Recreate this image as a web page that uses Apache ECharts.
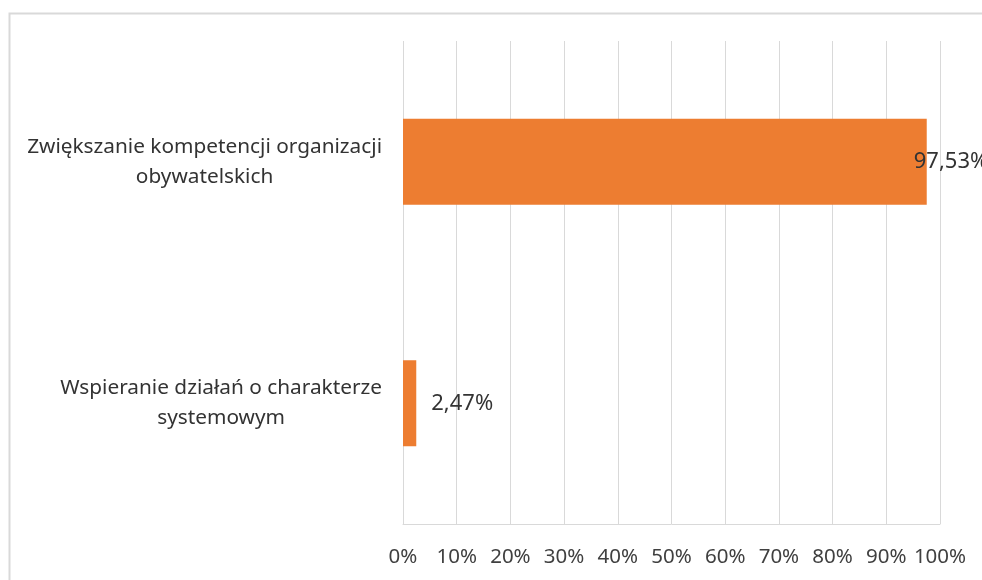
<!DOCTYPE html>
<html>
<head>
    <meta charset="utf-8">
    <title>Wykres</title>
    <script src="https://cdn.jsdelivr.net/npm/echarts@6/dist/echarts.min.js"></script>
    <style>
        html, body { margin: 0; padding: 0; background: #ffffff; }
        #chart { width: 982px; height: 580px; }
    </style>
</head>
<body>
<div id="chart"></div>
<script>
    // dane wykresu
    var categories = [
        'Zwiększanie kompetencji organizacji\nobywatelskich',
        'Wspieranie działań o charakterze\nsystemowym'
    ];
    var values = [97.53, 2.47];
    var labelDistance = [-13, 15];

    var font = 'Noto Sans';
    var chart = echarts.init(document.getElementById('chart'));

    var seriesData = values.map(function (v, i) {
        return {
            value: v,
            label: { distance: labelDistance[i] }
        };
    });

    var option = {
        animation: false,
        textStyle: { fontFamily: font },
        graphic: [{
            type: 'rect',
            left: 7,
            top: 11,
            z: -10,
            shape: { width: 1100, height: 700 },
            style: { fill: 'none', stroke: '#d9d9d9', lineWidth: 2 }
        }],
        grid: {
            left: 403,
            right: 42,
            top: 41,
            bottom: 56
        },
        xAxis: {
            type: 'value',
            min: 0,
            max: 100,
            interval: 10,
            axisLine: { show: true, lineStyle: { color: '#d9d9d9', width: 1 } },
            axisTick: { show: false },
            splitLine: { lineStyle: { color: '#d9d9d9', width: 1 } },
            axisLabel: {
                formatter: '{value}%',
                color: '#404040',
                fontSize: 20.5,
                fontFamily: font,
                margin: 23
            }
        },
        yAxis: {
            type: 'category',
            inverse: true,
            data: categories,
            axisLine: { show: false },
            axisTick: { show: false },
            axisLabel: {
                margin: 21,
                formatter: function (v) {
                    return v.split('\n').map(function (l) { return '{c|' + l + '}'; }).join('\n');
                },
                rich: {
                    c: {
                        align: 'center',
                        color: '#333333',
                        fontSize: 20.8,
                        fontFamily: font,
                        lineHeight: 30
                    }
                }
            }
        },
        series: [{
            type: 'bar',
            data: seriesData,
            barWidth: 86,
            itemStyle: { color: '#ed7d31' },
            label: {
                show: true,
                position: 'right',
                color: '#333333',
                fontSize: 22,
                fontFamily: font,
                formatter: function (p) {
                    return p.value.toFixed(2).replace('.', ',') + '%';
                }
            }
        }]
    };
    chart.setOption(option);
</script>
</body>
</html>
